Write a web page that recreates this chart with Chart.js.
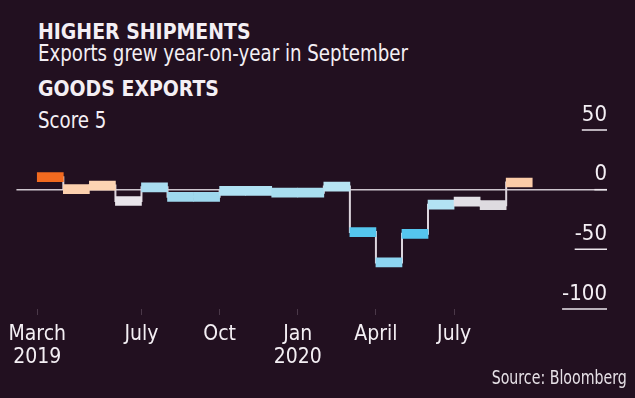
<!DOCTYPE html>
<html>
<head>
<meta charset="utf-8">
<script src="https://cdn.jsdelivr.net/npm/chart.js@4.4.0/dist/chart.umd.min.js"></script>
<style>
  html, body { margin: 0; padding: 0; }
  body {
    width: 635px; height: 398px; position: relative; overflow: hidden;
    background: #221020; color: #f4eff4;
    font-family: "DejaVu Sans Condensed", "DejaVu Sans", sans-serif;
  }
  .txt { position: absolute; left: 38px; line-height: 1; white-space: nowrap; transform-origin: 0 0; }
  .head { font-weight: bold; font-size: 21px; }
  .sub { font-size: 23px; transform: scaleX(0.88); }
  #chartWrap { position: absolute; left: 0; top: 0; width: 635px; height: 398px; }
  #source {
    position: absolute; right: 8px; top: 368px; font-size: 19px; line-height: 1; color: #e6e0e6;
    white-space: nowrap; transform: scaleX(0.83); transform-origin: 100% 0;
  }
</style>
</head>
<body>
<div class="txt head" style="top:22px">HIGHER SHIPMENTS</div>
<div class="txt sub" style="top:42px">Exports grew year-on-year in September</div>
<div class="txt head" style="top:79px">GOODS EXPORTS</div>
<div class="txt sub" style="top:109px">Score 5</div>
<div id="chartWrap"><canvas id="exportsChart" width="635" height="398"></canvas></div>
<div id="source">Source: Bloomberg</div>

<script>
// meses de marzo 2019 a septiembre 2020
const meses = ["Mar 2019", "Apr 2019", "May 2019", "Jun 2019", "Jul 2019", "Aug 2019", "Sep 2019",
    "Oct 2019", "Nov 2019", "Dec 2019", "Jan 2020", "Feb 2020", "Mar 2020", "Apr 2020",
    "May 2020", "Jun 2020", "Jul 2020", "Aug 2020", "Sep 2020"];

// variación interanual de exportaciones (%)
const exportaciones = [10.5, 0.5, 3.4, -9.5, 2.0, -6.0, -6.0, -1.0, -1.0, -2.5, -2.5, 2.6,
    -35.5, -61.0, -37.0, -12.6, -10.0, -13.0, 6.0];

const colores = ["#f26a1f", "#fcd0ae", "#fcd4b3", "#e9e5eb", "#a9dcf0", "#9fd8ee", "#9fd8ee",
    "#b0e1f3", "#b0e1f3", "#a8def0", "#a8def0", "#b7e4f3", "#55c6ee", "#8dd5f1",
    "#55c6ee", "#b3e2f3", "#e2dfe5", "#dedbe0", "#fbcca8"];

const ticksMes = [0, 4, 7, 10, 13, 16];
const etiquetasMes = [["March", "2019"], "July", "Oct", ["Jan", "2020"], "April", "July"];
const ticksY = [50, 0, -50, -100];

const fuente = '"DejaVu Sans Condensed", "DejaVu Sans", sans-serif';
const MEDIA_BARRA = 3.8; // media altura de cada barra, en unidades del eje

let barras = exportaciones.map((v, i) => ({ x: i + 0.5, y: [v - MEDIA_BARRA, v + MEDIA_BARRA] }));
let escalones = exportaciones.map((v, i) => ({ x: i + 0.5, y: v }));

// subrayado bajo cada etiqueta del eje derecho
const subrayado = {
    id: "subrayado",
    afterDraw(chart) {
        let ctx = chart.ctx;
        let escala = chart.scales.y;
        ctx.save();
        ctx.font = "22px " + fuente;
        ctx.strokeStyle = "#ece6ec";
        ctx.lineWidth = 1.5;
        escala.ticks.forEach((t) => {
            let y = escala.getPixelForValue(t.value);
            let ancho = ctx.measureText(String(t.label)).width;
            ctx.beginPath();
            ctx.moveTo(escala.left - ancho, y);
            ctx.lineTo(escala.left, y);
            ctx.stroke();
        });
        ctx.restore();
    }
};

let ctx = document.getElementById("exportsChart").getContext("2d");
let chart = new Chart(ctx, {
    type: "bar",
    data: {
        datasets: [{
            label: "Exports",
            data: barras,
            backgroundColor: colores,
            borderWidth: 0,
            barPercentage: 1,
            categoryPercentage: 1,
            order: 1
        }, {
            type: "line",
            label: "Step",
            data: escalones,
            stepped: "middle",
            borderColor: "#ddd5dd",
            borderWidth: 2,
            pointRadius: 0,
            fill: false,
            order: 2
        }]
    },
    options: {
        responsive: false,
        animation: false,
        layout: { padding: { left: 14, right: 28, top: 130, bottom: 0 } },
        plugins: {
            legend: { display: false },
            tooltip: { enabled: false }
        },
        scales: {
            x: {
                type: "linear",
                offset: false,
                min: -0.8,
                max: 21.87,
                afterBuildTicks: (s) => { s.ticks = ticksMes.map((v) => ({ value: v })); },
                afterFit: (s) => { s.height = 89; },
                border: { display: false },
                grid: { drawOnChartArea: false, offset: false, color: "#4a3848", tickLength: 6 },
                ticks: {
                    autoSkip: false,
                    maxRotation: 0,
                    padding: 8,
                    color: "#f4eff4",
                    font: { family: fuente, size: 21, lineHeight: 1.1 },
                    callback: (v, i) => etiquetasMes[i]
                }
            },
            y: {
                type: "linear",
                position: "right",
                min: -100,
                max: 50,
                afterBuildTicks: (s) => { s.ticks = ticksY.map((v) => ({ value: v })); },
                border: { display: false },
                grid: {
                    drawTicks: false,
                    lineWidth: 1.5,
                    color: (c) => (c.tick && c.tick.value === 0 ? "#cdc5cd" : "rgba(0,0,0,0)")
                },
                ticks: {
                    mirror: true,
                    padding: 0,
                    labelOffset: -15,
                    color: "#f4eff4",
                    font: { family: fuente, size: 22 }
                }
            }
        }
    },
    plugins: [subrayado]
});
</script>
</body>
</html>
